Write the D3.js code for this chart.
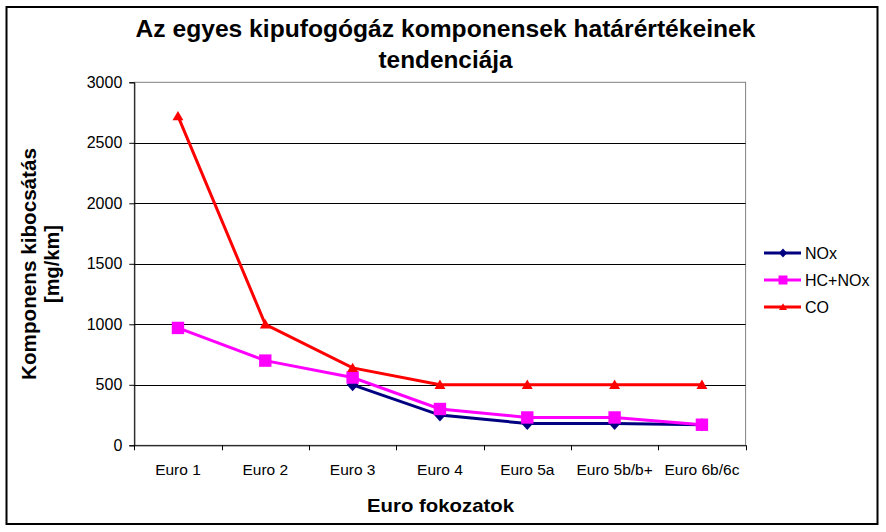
<!DOCTYPE html>
<html>
<head>
<meta charset="utf-8">
<script src="https://cdn.jsdelivr.net/npm/d3@7"></script>
<style>
  html, body { margin: 0; padding: 0; background: #fff; }
  svg text { font-family: "Liberation Sans", Arial, sans-serif; }
</style>
</head>
<body>
<svg id="chart" width="886" height="532"></svg>
<script>
const categories = ["Euro 1", "Euro 2", "Euro 3", "Euro 4", "Euro 5a", "Euro 5b/b+", "Euro 6b/6c"];
const noxValues = [null, null, 500, 250, 180, 180, 170];
const hcNoxValues = [970, 700, 560, 300, 230, 230, 170];
const coValues = [2720, 1000, 640, 500, 500, 500, 500];
const yTicks = [0, 500, 1000, 1500, 2000, 2500, 3000];
const seriesNames = ["NOx", "HC+NOx", "CO"];

const series = [
  { name: seriesNames[0], values: noxValues, color: "#000080", marker: "diamond" },
  { name: seriesNames[1], values: hcNoxValues, color: "#FF00FF", marker: "square" },
  { name: seriesNames[2], values: coValues, color: "#FF0000", marker: "triangle" }
];

const svg = d3.select("#chart");
const plot = { left: 134.3, right: 745.6, top: 82.3, bottom: 445.3 };

// outer border
svg.append("rect").attr("x", 6.5).attr("y", 7).attr("width", 871).attr("height", 517)
  .attr("fill", "#fff").attr("stroke", "#000").attr("stroke-width", 2);

const x = d3.scaleBand().domain(categories).range([plot.left, plot.right]).padding(0);
const y = d3.scaleLinear().domain([0, 3000]).range([plot.bottom, plot.top]);

// plot area border (gray)
svg.append("rect").attr("x", plot.left).attr("y", plot.top)
  .attr("width", plot.right - plot.left).attr("height", plot.bottom - plot.top)
  .attr("fill", "#fff").attr("stroke", "#808080").attr("stroke-width", 1);

// gridlines
svg.append("g").selectAll("line").data(yTicks.filter(t => t > 0 && t < 3000)).join("line")
  .attr("x1", plot.left).attr("x2", plot.right)
  .attr("y1", d => Math.round(y(d)) + 0.5).attr("y2", d => Math.round(y(d)) + 0.5)
  .attr("stroke", "#000").attr("stroke-width", 1);

// y axis
const yAxis = d3.axisLeft(y).tickValues(yTicks).tickSize(5).tickPadding(7).tickFormat(d3.format("d"));
const gy = svg.append("g").attr("transform", `translate(${plot.left},0)`).call(yAxis);
gy.select(".domain").attr("stroke", "#000");
gy.selectAll(".tick line").attr("stroke", "#000");
gy.selectAll(".tick text").attr("font-size", "16px").attr("fill", "#000")
  .attr("font-family", "'Liberation Sans', Arial, sans-serif");

// x axis
const xAxis = d3.axisBottom(x).tickSize(0).tickPadding(19);
const gx = svg.append("g").attr("transform", `translate(0,${plot.bottom})`).call(xAxis);
gx.select(".domain").attr("stroke", "#000");
gx.selectAll(".tick text").attr("font-size", "15.5px").attr("fill", "#000")
  .attr("font-family", "'Liberation Sans', Arial, sans-serif");
// category boundary ticks
const bounds = categories.map(c => x(c)).concat([x(categories[categories.length - 1]) + x.bandwidth()]);
svg.append("g").selectAll("line").data(bounds).join("line")
  .attr("x1", d => Math.round(d) + 0.5).attr("x2", d => Math.round(d) + 0.5)
  .attr("y1", plot.bottom).attr("y2", plot.bottom + 5)
  .attr("stroke", "#000");

// markers
function markerPath(type, s) {
  if (type === "diamond") return `M0,${-s}L${s * 0.9},0L0,${s}L${-s * 0.9},0Z`;
  if (type === "square") return `M${-s},${-s}H${s}V${s}H${-s}Z`;
  return `M0,${-s}L${s * 1.05},${s * 0.8}L${-s * 1.05},${s * 0.8}Z`;
}
const markerSize = { diamond: 6.5, square: 6.2, triangle: 5.2 };

const cx = c => x(c) + x.bandwidth() / 2;
const line = d3.line().defined(d => d.v !== null).x(d => cx(d.c)).y(d => y(d.v));

series.forEach(s => {
  const pts = categories.map((c, i) => ({ c, v: s.values[i] }));
  const g = svg.append("g");
  g.append("path").datum(pts).attr("d", line)
    .attr("fill", "none").attr("stroke", s.color).attr("stroke-width", 3);
  g.selectAll("path.m").data(pts.filter(d => d.v !== null)).join("path").attr("class", "m")
    .attr("transform", d => `translate(${cx(d.c)},${y(d.v)})`)
    .attr("d", markerPath(s.marker, markerSize[s.marker]))
    .attr("fill", s.color);
});

// legend
const legend = svg.append("g");
const legY = [253, 280, 307];
series.forEach((s, i) => {
  const g = legend.append("g").attr("transform", `translate(0,${legY[i]})`);
  g.append("line").attr("x1", 764).attr("x2", 801).attr("y1", 0).attr("y2", 0)
    .attr("stroke", s.color).attr("stroke-width", 3);
  const ls = { diamond: 4.5, square: 4.5, triangle: 3.8 }[s.marker];
  g.append("path").attr("transform", "translate(783,0)").attr("d", markerPath(s.marker, ls)).attr("fill", s.color);
  g.append("text").attr("x", 805).attr("y", 0).attr("dy", "0.35em")
    .attr("font-size", "16px").attr("fill", "#000").text(s.name);
});

// title
const title = svg.append("g").attr("font-weight", "bold").attr("font-size", "23px").attr("text-anchor", "middle");
title.append("text").attr("x", 445.5).attr("y", 37).attr("textLength", 620).attr("lengthAdjust", "spacingAndGlyphs")
  .text("Az egyes kipufogógáz komponensek határértékeinek");
title.append("text").attr("x", 445.5).attr("y", 68).attr("textLength", 134).attr("lengthAdjust", "spacingAndGlyphs")
  .text("tendenciája");

// y axis title
const yt = svg.append("g").attr("font-weight", "bold").attr("font-size", "20px").attr("text-anchor", "middle");
yt.append("text").attr("transform", "translate(36,264) rotate(-90)").attr("textLength", 232)
  .attr("lengthAdjust", "spacingAndGlyphs").text("Komponens kibocsátás");
yt.append("text").attr("transform", "translate(59,264) rotate(-90)").text("[mg/km]");

// x axis title
svg.append("text").attr("x", 440.5).attr("y", 512).attr("text-anchor", "middle")
  .attr("font-weight", "bold").attr("font-size", "19px")
  .attr("textLength", 147).attr("lengthAdjust", "spacingAndGlyphs").text("Euro fokozatok");
</script>
</body>
</html>
